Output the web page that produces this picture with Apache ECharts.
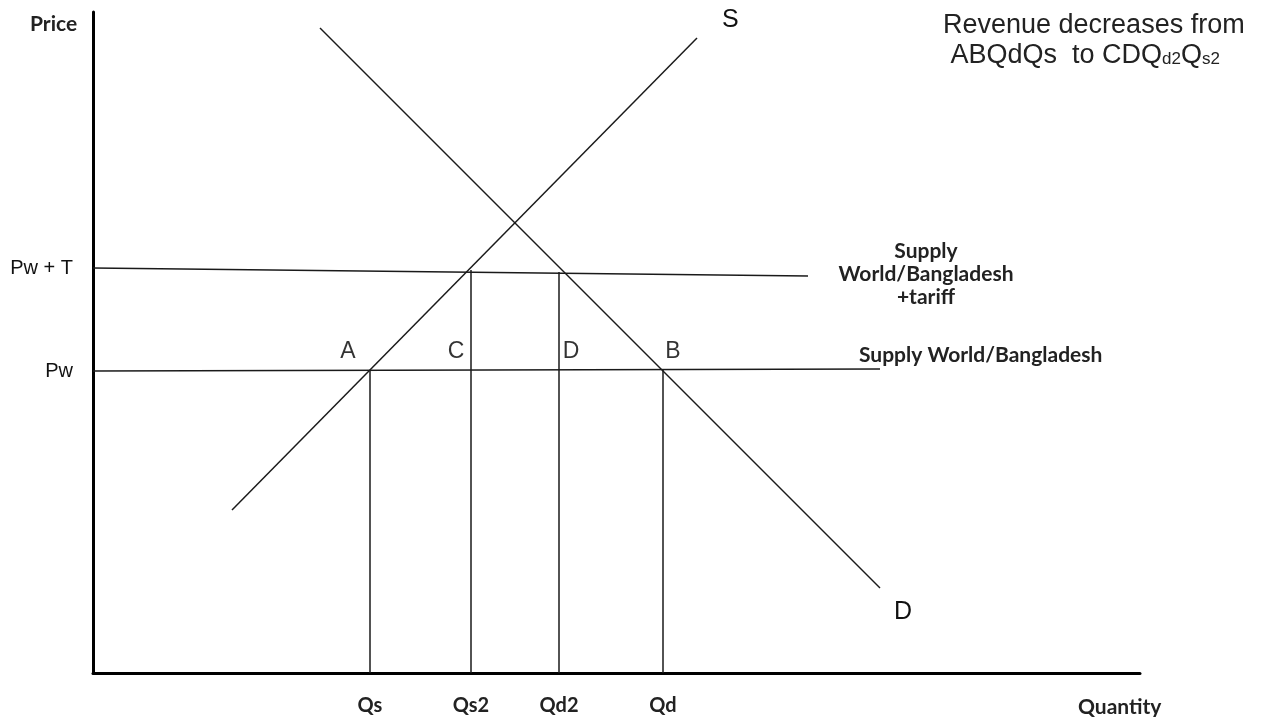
<!DOCTYPE html>
<html>
<head>
<meta charset="utf-8">
<script src="https://cdn.jsdelivr.net/npm/echarts@6/dist/echarts.min.js"></script>
<style>
  html, body { margin: 0; padding: 0; background: #fff; }
  #chart { width: 1268px; height: 717px; }
</style>
</head>
<body>
<div id="chart"></div>
<script>
// quantity / price in arbitrary diagram units
const supply_line = [[139, 163], [604, 635]];
const demand_line = [[227, 645], [787, 85]];
const world_tariff_line = [[0, 405], [715, 397]];
const world_line = [[0, 302], [787, 304]];

const q_names = ['Qs', 'Qs2', 'Qd2', 'Qd'];
const q_values = [277, 378, 466, 570];
const q_tops = [302, 403, 401, 303];

const p_names = ['Pw', 'Pw + T'];
const p_values = [302, 405];

const point_names = ['A', 'C', 'D', 'B'];
const point_pos = [[255, 321], [363, 321], [478, 321], [580, 321]];

(function () {
  const chart = echarts.init(document.getElementById('chart'));
  const lineStyle = { color: '#1a1a1a', width: 1.5 };
  const calibri = 'Lato, "Open Sans", sans-serif';
  const arial = '"Liberation Sans", Arial, sans-serif';

  let seriesList = [
    { name: 'S', data: supply_line },
    { name: 'D', data: demand_line },
    { name: 'Supply World/Bangladesh +tariff', data: world_tariff_line },
    { name: 'Supply World/Bangladesh', data: world_line }
  ].map(s => ({
    type: 'line', name: s.name, data: s.data, symbol: 'none',
    lineStyle: lineStyle, silent: true, animation: false
  }));

  q_values.forEach((q, i) => {
    seriesList.push({
      type: 'line', name: q_names[i], data: [[q, 0], [q, q_tops[i]]],
      symbol: 'none', lineStyle: lineStyle, silent: true, animation: false
    });
  });

  seriesList.push({
    type: 'scatter', symbolSize: 0, animation: false,
    data: point_pos.map((p, i) => ({ value: p, name: point_names[i] })),
    label: {
      show: true, position: 'inside', formatter: p => p.name,
      fontFamily: arial, fontSize: 23, color: '#000'
    }
  });

  const option = {
    backgroundColor: '#fff',
    grid: { left: 93, right: 128, top: 12, bottom: 44 },
    xAxis: {
      type: 'value', min: 0, max: 1047,
      splitLine: { show: false },
      axisTick: { show: false },
      axisLine: { lineStyle: { color: '#000', width: 3 } },
      axisLabel: {
        customValues: q_values,
        formatter: v => q_names[q_values.indexOf(v)],
        margin: 23, fontFamily: calibri, fontWeight: 'bold', fontSize: 20, color: '#222'
      }
    },
    yAxis: {
      type: 'value', min: 0, max: 661,
      splitLine: { show: false },
      axisTick: { show: false },
      axisLine: { show: true, lineStyle: { color: '#000', width: 3 } },
      axisLabel: {
        customValues: p_values,
        formatter: v => p_names[p_values.indexOf(v)],
        margin: 20, fontFamily: arial, fontSize: 20, color: '#111'
      }
    },
    graphic: [
      { type: 'text', left: 30, top: 14, style: { text: 'Price', font: 'bold 21px ' + calibri, fill: '#222' } },
      { type: 'text', left: 1078, top: 697, style: { text: 'Quantity', font: 'bold 21px ' + calibri, fill: '#222' } },
      { type: 'text', left: 722, top: 8, style: { text: 'S', font: '25px ' + arial, fill: '#111' } },
      { type: 'text', left: 894, top: 600, style: { text: 'D', font: '25px ' + arial, fill: '#111' } },
      {
        type: 'text', x: 926, y: 240,
        style: {
          text: 'Supply\nWorld/Bangladesh\n+tariff', align: 'center',
          font: 'bold 21px ' + calibri, lineHeight: 23, fill: '#222'
        }
      },
      { type: 'text', left: 859, top: 345, style: { text: 'Supply World/Bangladesh', font: 'bold 21px ' + calibri, fill: '#222' } },
      {
        type: 'text', left: 943, top: 11,
        style: {
          text: 'Revenue decreases from\n ABQdQs  to CDQ{sub|d2}Q{sub|s2}',
          rich: { sub: { fontSize: 17, fill: '#222', verticalAlign: 'middle', padding: [6, 0, 0, 0] } },
          font: '27px ' + arial, lineHeight: 30, fill: '#222'
        }
      }
    ],
    series: seriesList
  };

  chart.setOption(option);
})();
</script>
</body>
</html>
